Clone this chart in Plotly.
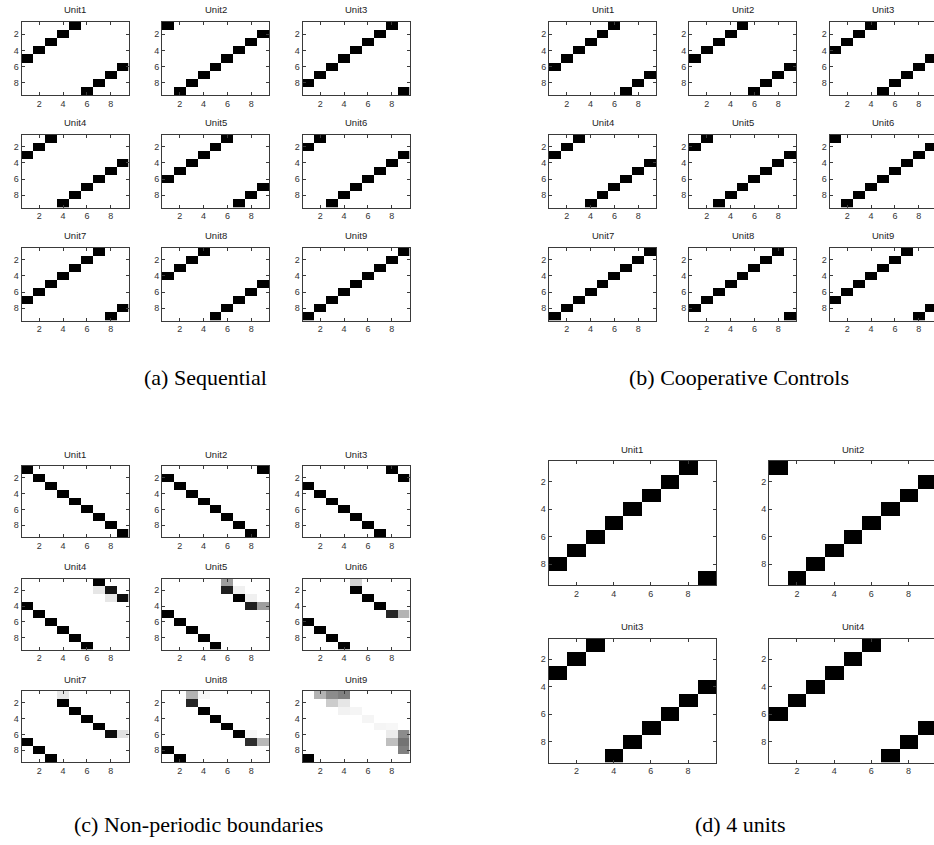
import plotly.graph_objects as go

FIG_W, FIG_H = 934, 845

# ---------------- data ----------------
UNIT_NAMES_9 = ["Unit1", "Unit2", "Unit3", "Unit4", "Unit5", "Unit6", "Unit7", "Unit8", "Unit9"]
UNIT_NAMES_4 = ["Unit1", "Unit2", "Unit3", "Unit4"]
CELL_INDEX = [1, 2, 3, 4, 5, 6, 7, 8, 9]
TICK_VALS = [2, 4, 6, 8]

# (a) Sequential: row of the black cell for columns 1..9
SEQ_ROWS = [
    [5, 4, 3, 2, 1, 9, 8, 7, 6],
    [1, 9, 8, 7, 6, 5, 4, 3, 2],
    [8, 7, 6, 5, 4, 3, 2, 1, 9],
    [3, 2, 1, 9, 8, 7, 6, 5, 4],
    [6, 5, 4, 3, 2, 1, 9, 8, 7],
    [2, 1, 9, 8, 7, 6, 5, 4, 3],
    [7, 6, 5, 4, 3, 2, 1, 9, 8],
    [4, 3, 2, 1, 9, 8, 7, 6, 5],
    [9, 8, 7, 6, 5, 4, 3, 2, 1],
]
# (b) Cooperative Controls
COOP_ROWS = [
    [6, 5, 4, 3, 2, 1, 9, 8, 7],
    [5, 4, 3, 2, 1, 9, 8, 7, 6],
    [4, 3, 2, 1, 9, 8, 7, 6, 5],
    [3, 2, 1, 9, 8, 7, 6, 5, 4],
    [2, 1, 9, 8, 7, 6, 5, 4, 3],
    [1, 9, 8, 7, 6, 5, 4, 3, 2],
    [9, 8, 7, 6, 5, 4, 3, 2, 1],
    [8, 7, 6, 5, 4, 3, 2, 1, 9],
    [7, 6, 5, 4, 3, 2, 1, 9, 8],
]
# (c) Non-periodic boundaries: main cell rows, their intensities, extra grey cells (col, row, level)
NONPER_ROWS = [
    [1, 2, 3, 4, 5, 6, 7, 8, 9],
    [2, 3, 4, 5, 6, 7, 8, 9, 1],
    [3, 4, 5, 6, 7, 8, 9, 1, 2],
    [4, 5, 6, 7, 8, 9, 1, 2, 3],
    [5, 6, 7, 8, 9, 2, 3, 4, 4],
    [6, 7, 8, 9, 2, 3, 4, 5, 5],
    [7, 8, 9, 2, 3, 4, 5, 6, 6],
    [8, 9, 2, 3, 4, 5, 6, 7, 7],
    [9, 1, 1, 1, 3, 4, 5, 7, 7],
]
NONPER_LEVELS = [
    [1, 1, 1, 1, 1, 1, 1, 1, 1],
    [1, 1, 1, 1, 1, 1, 1, 1, 1],
    [1, 1, 1, 1, 1, 1, 1, 1, 1],
    [1, 1, 1, 1, 1, 1, 1, 0.92, 0.95],
    [1, 1, 1, 1, 1, 0.88, 1, 0.88, 0.38],
    [1, 1, 1, 1, 1, 1, 1, 0.85, 0.3],
    [1, 1, 1, 1, 1, 1, 1, 0.95, 0.12],
    [1, 1, 0.85, 1, 1, 1, 1, 0.82, 0.28],
    [1, 0.3, 0.45, 0.5, 0.04, 0.04, 0.04, 0.25, 0.55],
]
NONPER_EXTRA = [
    [],
    [],
    [],
    [(7, 2, 0.1), (8, 3, 0.1)],
    [(6, 1, 0.38), (7, 2, 0.06), (8, 3, 0.06)],
    [(5, 1, 0.18)],
    [(4, 1, 0.1)],
    [(3, 1, 0.3), (4, 1, 0.03), (8, 6, 0.03)],
    [(3, 2, 0.2), (4, 2, 0.1), (4, 3, 0.05), (8, 5, 0.03), (8, 6, 0.08), (9, 6, 0.45), (9, 8, 0.5)],
]
# (d) 4 units
FOUR_ROWS = [
    [8, 7, 6, 5, 4, 3, 2, 1, 9],
    [1, 9, 8, 7, 6, 5, 4, 3, 2],
    [3, 2, 1, 9, 8, 7, 6, 5, 4],
    [6, 5, 4, 3, 2, 1, 9, 8, 7],
]
CAPTIONS = ["(a) Sequential", "(b) Cooperative Controls", "(c) Non-periodic boundaries", "(d) 4 units"]

# ---------------- layout geometry (pixels) ----------------
AC_COLS, SMALL_W = [21.5, 162, 302.5], 107
B_COLS = [549, 689, 829.5]
AB_ROWS, SMALL_H_AB = [22, 134.5, 247.5], 73
C_ROWS, SMALL_H_C = [466, 578.5, 691], 71
D_COLS, D_ROWS, BIG_W, BIG_H = [548.5, 769], [461, 638.5], 167.5, 124
CAPTION_POS = [(205, 377), (739, 377), (198, 824), (740, 824)]

AXIS_COLOR = "#3a3a3a"
TICK_FONT = dict(family="Liberation Sans, Arial, sans-serif", size=9, color="#333333")


def make_z(rows, levels=None, extra=()):
    z = [[0.0] * 9 for _ in range(9)]
    for c, r in enumerate(rows):
        z[r - 1][c] = 1.0 if levels is None else levels[c]
    for c, r, v in extra:
        z[r - 1][c - 1] = v
    return z


fig = go.Figure()
annotations = []
count = [0]


def add_panel(z, left, top, w, h, title):
    count[0] += 1
    n = count[0]
    suffix = "" if n == 1 else str(n)
    right = left + w
    xr_max = 9.5
    truncated = right > FIG_W
    if truncated:
        xr_max = 0.5 + 9 * (FIG_W - left) / w
        right = FIG_W
    fig.add_trace(go.Heatmap(
        z=z, x=CELL_INDEX, y=CELL_INDEX, zmin=0, zmax=1,
        colorscale=[[0, "#ffffff"], [1, "#000000"]], showscale=False,
        hoverinfo="skip", xaxis="x" + suffix, yaxis="y" + suffix))
    common = dict(showgrid=False, zeroline=False, ticks="inside", ticklen=3,
                  tickcolor=AXIS_COLOR, tickwidth=1, showline=True, linecolor=AXIS_COLOR,
                  linewidth=1, tickfont=TICK_FONT, tickvals=TICK_VALS, fixedrange=True)
    fig.layout["xaxis" + suffix] = dict(
        common, domain=[left / FIG_W, right / FIG_W], anchor="y" + suffix,
        range=[0.5, xr_max], mirror="allticks")
    fig.layout["yaxis" + suffix] = dict(
        common, domain=[1 - (top + h) / FIG_H, 1 - top / FIG_H], anchor="x" + suffix,
        range=[9.5, 0.5], mirror=False if truncated else "allticks")
    annotations.append(dict(
        text=title, x=(left + w / 2) / FIG_W, y=1 - (top - 12) / FIG_H,
        xref="paper", yref="paper", xanchor="center", yanchor="middle", showarrow=False,
        font=dict(family="Liberation Sans, Arial, sans-serif", size=9.5, color="#222222")))


for i in range(9):
    r, c = divmod(i, 3)
    add_panel(make_z(SEQ_ROWS[i]), AC_COLS[c], AB_ROWS[r], SMALL_W, SMALL_H_AB, UNIT_NAMES_9[i])
for i in range(9):
    r, c = divmod(i, 3)
    add_panel(make_z(COOP_ROWS[i]), B_COLS[c], AB_ROWS[r], SMALL_W, SMALL_H_AB, UNIT_NAMES_9[i])
for i in range(9):
    r, c = divmod(i, 3)
    add_panel(make_z(NONPER_ROWS[i], NONPER_LEVELS[i], NONPER_EXTRA[i]),
              AC_COLS[c], C_ROWS[r], SMALL_W, SMALL_H_C, UNIT_NAMES_9[i])
for i in range(4):
    r, c = divmod(i, 2)
    add_panel(make_z(FOUR_ROWS[i]), D_COLS[c], D_ROWS[r], BIG_W, BIG_H, UNIT_NAMES_4[i])

for text, (cx, cy) in zip(CAPTIONS, CAPTION_POS):
    annotations.append(dict(
        text=text, x=cx / FIG_W, y=1 - cy / FIG_H, xref="paper", yref="paper",
        xanchor="center", yanchor="middle", showarrow=False,
        font=dict(family="Liberation Serif, Times New Roman, serif", size=22, color="#000000")))

fig.update_layout(
    width=FIG_W, height=FIG_H, margin=dict(l=0, r=0, t=0, b=0),
    paper_bgcolor="white", plot_bgcolor="white", showlegend=False,
    annotations=annotations)

fig.write_html("out.html", config={"displayModeBar": False})
